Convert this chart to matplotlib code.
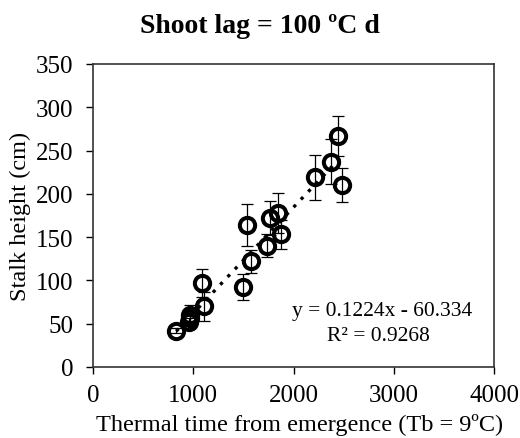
import numpy as np
import matplotlib.pyplot as plt

plt.rcParams['font.family'] = ['Liberation Serif', 'DejaVu Serif']

# thermal time (degree days) and stalk height (cm), with error (cm)
thermal = [830, 958, 962, 966, 1090, 1110, 1500, 1540, 1572, 1738, 1765, 1845, 1878, 2217, 2370, 2447, 2480]
height = [42, 52, 56, 60, 97, 70, 92, 164, 122, 140, 172, 178, 153, 219, 237, 267, 210]
err = [3, 5, 6, 12, 16, 17, 15, 24, 13, 13, 20, 23, 17, 26, 26, 23, 20]

slope = 0.1224
intercept = -60.334
r2 = 0.9268

fig = plt.figure(figsize=(5.2, 4.39), dpi=100)
ax = fig.add_axes([0.179, 0.162, 0.771, 0.690])

ax.errorbar(thermal, height, yerr=err, fmt='none', ecolor='black', elinewidth=0.9, capsize=4, capthick=0.9, zorder=2)
ax.plot(thermal, height, 'o', markersize=11, markerfacecolor='none', markeredgecolor='black', markeredgewidth=2.9, zorder=3)

xfit = np.array([min(thermal), max(thermal)])
ax.plot(xfit, slope * xfit + intercept, color='black', linestyle=(0, (1, 2.2)), linewidth=2.4, zorder=1)

ax.text(0.72, 0.185, 'y = %.4fx - %.3f' % (slope, -intercept), transform=ax.transAxes, ha='center', va='center', fontsize=15.5)
ax.text(0.713, 0.102, 'R² = %.4f' % r2, transform=ax.transAxes, ha='center', va='center', fontsize=15.5)

ax.set_xlim(0, 4000)
ax.set_ylim(0, 350)
ax.set_xticks([0, 1000, 2000, 3000, 4000])
ax.set_yticks(range(0, 351, 50))
ax.tick_params(direction='out', length=5, width=1, labelsize=18)
ax.tick_params(axis='y', pad=9)
ax.tick_params(axis='x', pad=7)
for s in ax.spines.values():
    s.set_linewidth(1.2)
    s.set_color('#333333')

ax.set_xlabel('Thermal time from emergence (Tb = 9ºC)', fontsize=17.5)
ax.set_ylabel('Stalk height (cm)', fontsize=17.5, labelpad=4)
ax.xaxis.set_label_coords(0.515, -0.152)
fig.text(0.5, 0.94, 'Shoot lag = 100 ºC d', ha='center', va='center', fontsize=20, fontweight='bold')

fig.savefig('out.png', dpi=100)
